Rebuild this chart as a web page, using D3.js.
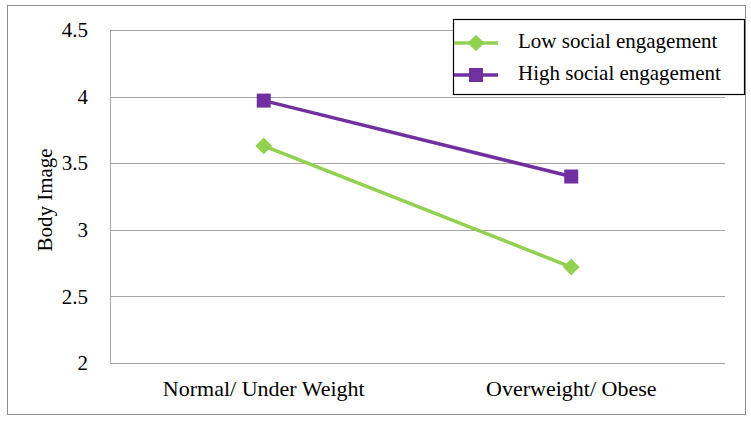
<!DOCTYPE html>
<html><head><meta charset="utf-8">
<script src="https://cdn.jsdelivr.net/npm/d3@7"></script>
<style>body{margin:0;background:#fff}svg{display:block}text{font-family:"Liberation Serif","Times New Roman",serif;fill:#000}</style>
</head><body><svg id="c" width="751" height="422"></svg>
<script>
const categories = ["Normal/ Under Weight", "Overweight/ Obese"];
const lowSocial = [3.63, 2.72];
const highSocial = [3.97, 3.40];
const yTicks = [2, 2.5, 3, 3.5, 4, 4.5];
const seriesNames = ["Low social engagement", "High social engagement"];
const colors = ["#92D050", "#7030A0"];
const FF = "Liberation Serif";

const svg = d3.select("#c");
svg.append("rect").attr("x",7.5).attr("y",5.5).attr("width",738).attr("height",409)
  .attr("fill","#fff").attr("stroke","#8c8c8c").attr("stroke-width",1);

const L=110, R=725, T=30, B=363;
const x = d3.scaleBand().domain(categories).range([L,R]);
const y = d3.scaleLinear().domain([2,4.5]).range([B,T]);

svg.append("g").selectAll("line").data(yTicks).join("line")
  .attr("x1",L).attr("x2",R).attr("y1",d=>Math.round(y(d))+0.5).attr("y2",d=>Math.round(y(d))+0.5)
  .attr("stroke","#a6a6a6").attr("stroke-width",1);
svg.append("line").attr("x1",L+0.5).attr("x2",L+0.5).attr("y1",T).attr("y2",B+0.5).attr("stroke","#a6a6a6");

const ya = svg.append("g").attr("transform",`translate(${L},0)`)
  .call(d3.axisLeft(y).tickValues(yTicks).tickSize(0).tickPadding(22).tickFormat(d3.format("")))
  .attr("font-family",FF).attr("font-size",21);
ya.select(".domain").remove();
ya.selectAll("text").attr("font-size",21).attr("font-family",FF);

const xa = svg.append("g").attr("transform",`translate(0,${B})`)
  .call(d3.axisBottom(x).tickSize(0).tickPadding(17))
  .attr("font-family",FF).attr("font-size",22);
xa.select(".domain").remove();
xa.selectAll("text").attr("font-size",22).attr("font-family",FF);

svg.append("text").attr("transform","translate(52,200) rotate(-90)").attr("text-anchor","middle")
  .attr("font-family",FF).attr("font-size",21).text("Body Image");

const cx = d => x(d)+x.bandwidth()/2;
const line = d3.line().x((d,i)=>cx(categories[i])).y(d=>y(d));
const data = [lowSocial, highSocial];
data.forEach((vals,si)=>{
  svg.append("path").datum(vals).attr("d",line).attr("fill","none")
    .attr("stroke",colors[si]).attr("stroke-width",3.5);
});
function marker(g, si, px, py){
  if(si===0){
    g.append("path").attr("d",d3.symbol(d3.symbolSquare,140)())
      .attr("transform",`translate(${px},${py}) rotate(45)`).attr("fill",colors[0]);
  } else {
    g.append("rect").attr("x",px-7).attr("y",py-7).attr("width",14).attr("height",14).attr("fill",colors[1]);
  }
}
data.forEach((vals,si)=>{
  vals.forEach((v,i)=>marker(svg,si,cx(categories[i]),y(v)));
});

svg.append("rect").attr("x",453.5).attr("y",19.5).attr("width",291).attr("height",75)
  .attr("fill","#fff").attr("stroke","#000").attr("stroke-width",1.2);
const ly=[43,75];
seriesNames.forEach((n,i)=>{
  svg.append("line").attr("x1",454).attr("x2",498).attr("y1",ly[i]).attr("y2",ly[i])
    .attr("stroke",colors[i]).attr("stroke-width",3.5);
  marker(svg,i,476,ly[i]);
  svg.append("text").attr("x",518).attr("y",ly[i]-2).attr("dy","0.35em")
    .attr("font-family",FF).attr("font-size",21).text(n);
});
</script></body></html>
